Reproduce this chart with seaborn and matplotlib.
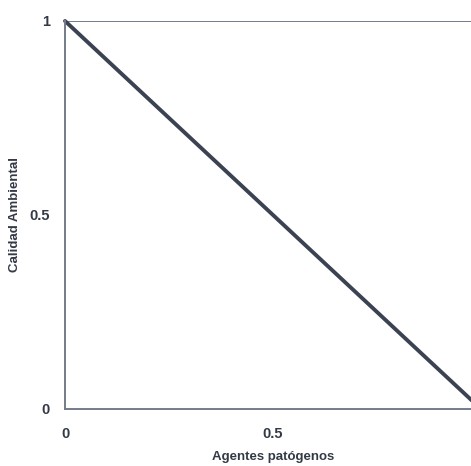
import matplotlib
matplotlib.use("Agg")
import matplotlib.pyplot as plt
import seaborn as sns
import pandas as pd

# Environmental quality as a function of pathogen load
agentes = [0.0, 1.0]
calidad = [1.0, 0.0]
xticks = [0, 0.5]
xtick_labels = ["0", "0.5"]
yticks = [0, 0.5, 1]
ytick_labels = ["0", "0.5", "1"]

sns.set_theme(style="white")
plt.rcParams["font.family"] = ["Liberation Sans", "DejaVu Sans"]

df = pd.DataFrame({"Agentes patógenos": agentes, "Calidad Ambiental": calidad})

fig = plt.figure(figsize=(4.71, 4.66), dpi=100)
W, H = 471, 466
x0, x1 = 65, 481
y_top, y_bot = 21, 409
ax = fig.add_axes([x0 / W, 1 - y_bot / H, (x1 - x0) / W, (y_bot - y_top) / H])

axis_col = "#737c88"
line_col = "#3b4352"
text_col = "#333a45"

sns.lineplot(data=df, x="Agentes patógenos", y="Calidad Ambiental", ax=ax,
             color=line_col, linewidth=2.8, clip_on=False)
ax.axhline(1.0, color=axis_col, linewidth=1.4, zorder=1)

ax.set_xlim(0, 1)
ax.set_ylim(0, 1)
for side in ["top", "right"]:
    ax.spines[side].set_visible(False)
for side in ["left", "bottom"]:
    ax.spines[side].set_color(axis_col)
    ax.spines[side].set_linewidth(1.4)

ax.set_xticks(xticks, xtick_labels)
ax.set_yticks(yticks, ytick_labels)
ax.tick_params(axis="both", which="major", width=1.0, color=axis_col,
               labelsize=10.5, labelcolor=text_col)
ax.tick_params(axis="y", direction="out", length=5, pad=6)
ax.tick_params(axis="x", direction="out", length=3, pad=10)
for lbl in ax.get_xticklabels() + ax.get_yticklabels():
    lbl.set_fontweight("bold")

ax.set_xlabel("Agentes patógenos", fontsize=9.5, fontweight="bold", color=text_col, labelpad=7)
ax.set_ylabel("Calidad Ambiental", fontsize=9.5, fontweight="bold", color=text_col, labelpad=6)

fig.savefig("out.png", dpi=100)
